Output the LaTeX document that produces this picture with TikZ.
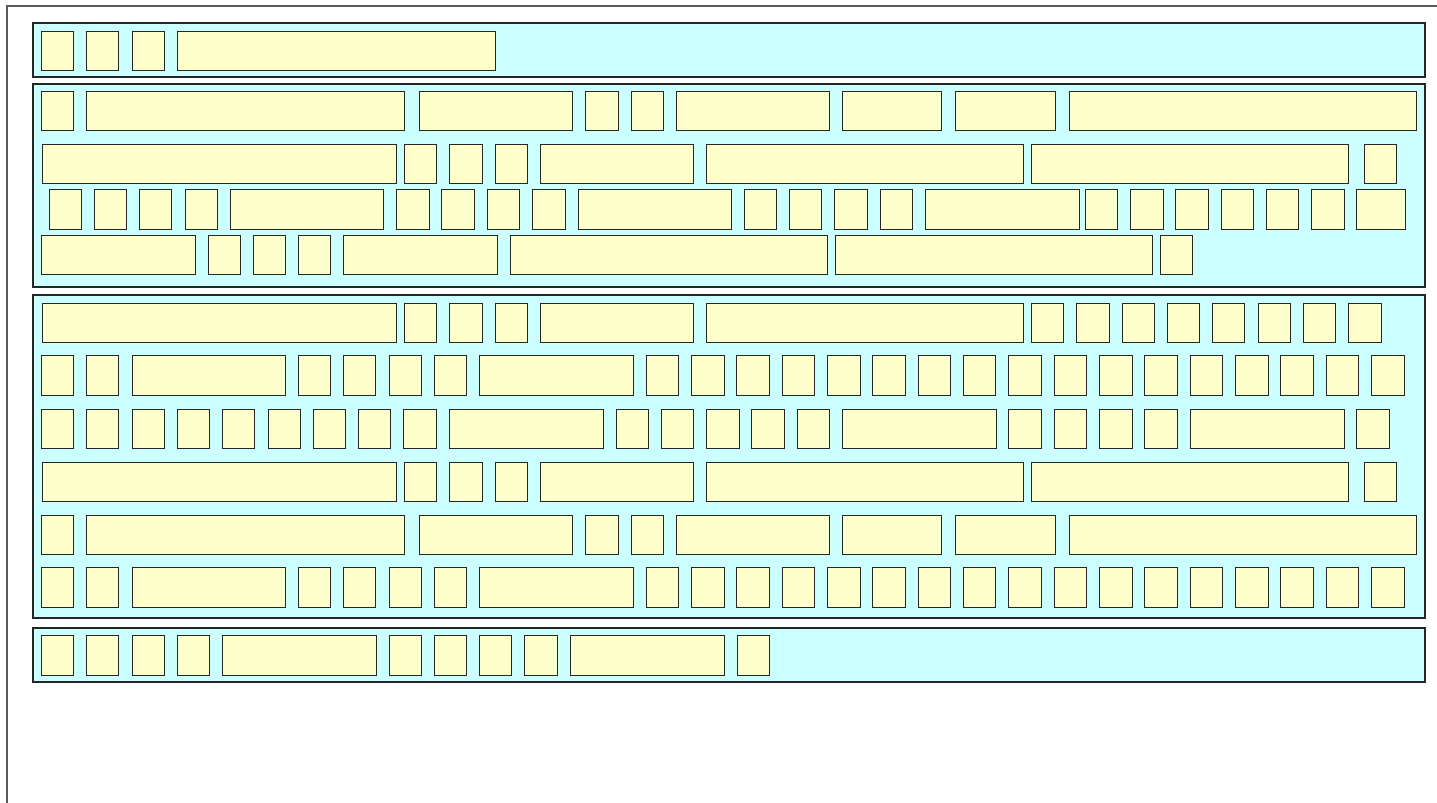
\documentclass[tikz,border=0pt]{standalone}
\definecolor{panelfill}{RGB}{204,255,255}
\definecolor{cellfill}{RGB}{255,255,204}

% cell rows (left/right edge of every cell, in px)
\def\cellrowwide{41/73,86/404,419/572,585/618,631/663,676/829,842/941,955/1055,1069/1416}
\def\cellrowlong{42/396,404/436,449/482,495/527,540/693,706/1023,1031/1348,1364/1396}
\def\cellrowmix{41/73,86/118,132/285,298/330,343/375,389/421,434/466,479/633,646/678,691/724,736/769,782/814,827/860,872/905,918/950,963/995,1008/1041,1054/1086,1099/1132,1144/1177,1190/1222,1235/1268,1280/1313,1326/1358,1371/1404}

\begin{document}
\begin{tikzpicture}[x=0.5pt,y=-0.5pt,
  panel/.style={draw=black!85,line width=0.6pt,fill=panelfill},
  cell/.style={draw=black!85,line width=0.5pt,fill=cellfill}]
\useasboundingbox (0,0) rectangle (1437,803);
\draw[black!65,line width=0.8pt] (7,803) -- (7,6) -- (1437,6);

% panel 1
\draw[panel] (33,23) rectangle (1425,77);
\foreach \a/\b in {41/73,86/118,132/164,177/495} \draw[cell] (\a,31) rectangle (\b,70);

% panel 2
\draw[panel] (33,84) rectangle (1425,287);
\foreach \a/\b in \cellrowwide \draw[cell] (\a,91) rectangle (\b,130);
\foreach \a/\b in \cellrowlong \draw[cell] (\a,144) rectangle (\b,183);
\foreach \a/\b in {49/81,94/126,139/171,185/217,230/383,396/429,441/474,487/519,532/565,578/731,744/776,789/821,834/867,880/912,925/1079,1085/1117,1130/1163,1175/1208,1221/1253,1266/1298,1311/1344,1356/1405}
  \draw[cell] (\a,189) rectangle (\b,229);
\foreach \a/\b in {41/195,208/240,253/285,298/330,343/497,510/827,835/1152,1160/1192}
  \draw[cell] (\a,235) rectangle (\b,274);

% panel 3
\draw[panel] (33,295) rectangle (1425,618);
\foreach \a/\b in {42/396,404/436,449/482,495/527,540/693,706/1023,1031/1063,1076/1109,1122/1154,1167/1199,1212/1244,1258/1290,1303/1335,1348/1381}
  \draw[cell] (\a,303) rectangle (\b,342);
\foreach \a/\b in \cellrowmix \draw[cell] (\a,355) rectangle (\b,395);
\foreach \a/\b in {41/73,86/118,132/164,177/209,222/254,268/300,313/345,358/390,403/436,449/603,616/648,661/693,706/739,751/784,797/829,842/996,1008/1041,1054/1086,1099/1132,1144/1177,1190/1344,1356/1389}
  \draw[cell] (\a,409) rectangle (\b,448);
\foreach \a/\b in \cellrowlong \draw[cell] (\a,462) rectangle (\b,501);
\foreach \a/\b in \cellrowwide \draw[cell] (\a,515) rectangle (\b,554);
\foreach \a/\b in \cellrowmix \draw[cell] (\a,567) rectangle (\b,607);

% panel 4
\draw[panel] (33,628) rectangle (1425,682);
\foreach \a/\b in {41/73,86/118,132/164,177/209,222/376,389/421,434/466,479/511,524/557,570/724,737/769}
  \draw[cell] (\a,635) rectangle (\b,675);
\end{tikzpicture}
\end{document}
